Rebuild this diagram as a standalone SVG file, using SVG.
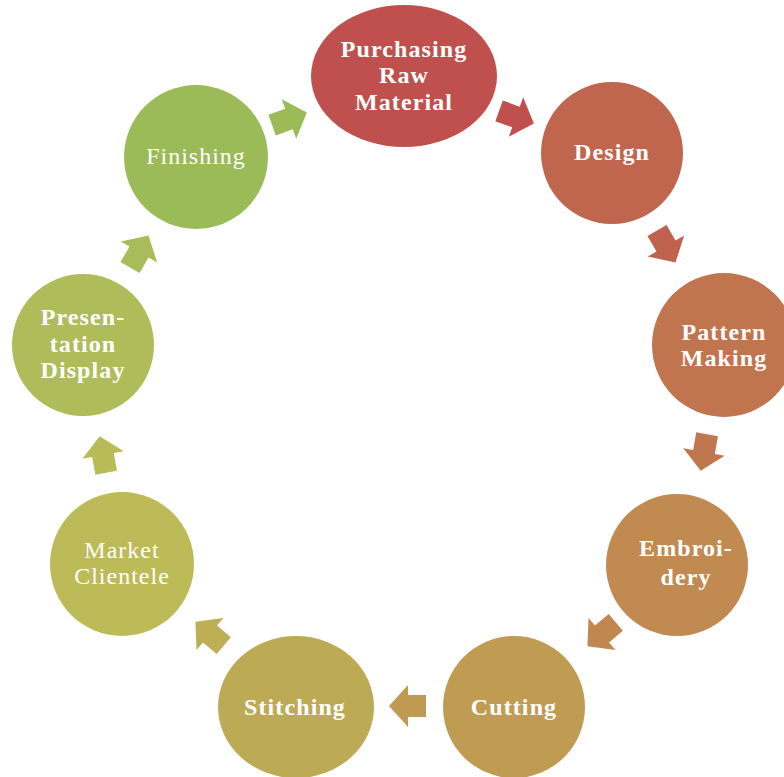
<svg xmlns="http://www.w3.org/2000/svg" width="784" height="777" viewBox="0 0 784 777">
<style>
text{font-family:"Liberation Serif","DejaVu Serif",serif;fill:#fff;text-anchor:middle;font-size:24px}
.b{font-weight:bold;letter-spacing:1.1px}
.r{font-weight:normal;letter-spacing:1px}
</style>
<defs>
<path id="arr" d="M-18,-11 L0,-11 L0,-21 L19,0 L0,21 L0,11 L-18,11 Z"/>
</defs>
<rect width="784" height="777" fill="#fff"/>
<g id="connectors">
<use href="#arr" fill="#C0504D" transform="translate(516,117) rotate(20)"/>
<use href="#arr" fill="#C0634E" transform="translate(666,246) rotate(60)"/>
<use href="#arr" fill="#C0774F" transform="translate(704,452) rotate(100)"/>
<use href="#arr" fill="#C08850" transform="translate(602,634) rotate(140)"/>
<use href="#arr" fill="#BF9A52" transform="translate(408,706) rotate(180)"/>
<use href="#arr" fill="#BEAE55" transform="translate(210,634) rotate(220)"/>
<use href="#arr" fill="#B9BB57" transform="translate(103,455) rotate(260)"/>
<use href="#arr" fill="#A8BC5A" transform="translate(139,252) rotate(300)"/>
<use href="#arr" fill="#9BBB59" transform="translate(289,119) rotate(340)"/>
</g>
<g id="n1"><ellipse cx="404" cy="76" rx="93" ry="71" fill="#C0504D"/>
<text class="b" x="404" y="57">Purchasing</text><text class="b" x="404" y="83">Raw</text><text class="b" x="404" y="110">Material</text></g>
<g id="n2"><circle cx="612" cy="153" r="71" fill="#C0654E"/>
<text class="b" x="612" y="160">Design</text></g>
<g id="n3"><circle cx="724" cy="345" r="72" fill="#C0754F"/>
<text class="b" x="724" y="340">Pattern</text><text class="b" x="724" y="366">Making</text></g>
<g id="n4"><circle cx="677" cy="565" r="71" fill="#C08A50"/>
<text class="b" x="686" y="556">Embroi-</text><text class="b" x="686" y="585">dery</text></g>
<g id="n5"><circle cx="514" cy="707" r="71" fill="#BF9C52"/>
<text class="b" x="514" y="715">Cutting</text></g>
<g id="n6"><ellipse cx="296" cy="707" rx="78" ry="71" fill="#BCAA54"/>
<text class="b" x="295" y="715">Stitching</text></g>
<g id="n7"><circle cx="122" cy="564" r="72" fill="#BDBB57"/>
<text class="r" x="122" y="558">Market</text><text class="r" x="122" y="584">Clientele</text></g>
<g id="n8"><circle cx="83" cy="345" r="71" fill="#AEBC5A"/>
<text class="b" x="83" y="325">Presen-</text><text class="b" x="83" y="352">tation</text><text class="b" x="83" y="378">Display</text></g>
<g id="n9"><circle cx="196" cy="157" r="72" fill="#9BBB59"/>
<text class="r" x="196" y="164">Finishing</text></g>
</svg>
